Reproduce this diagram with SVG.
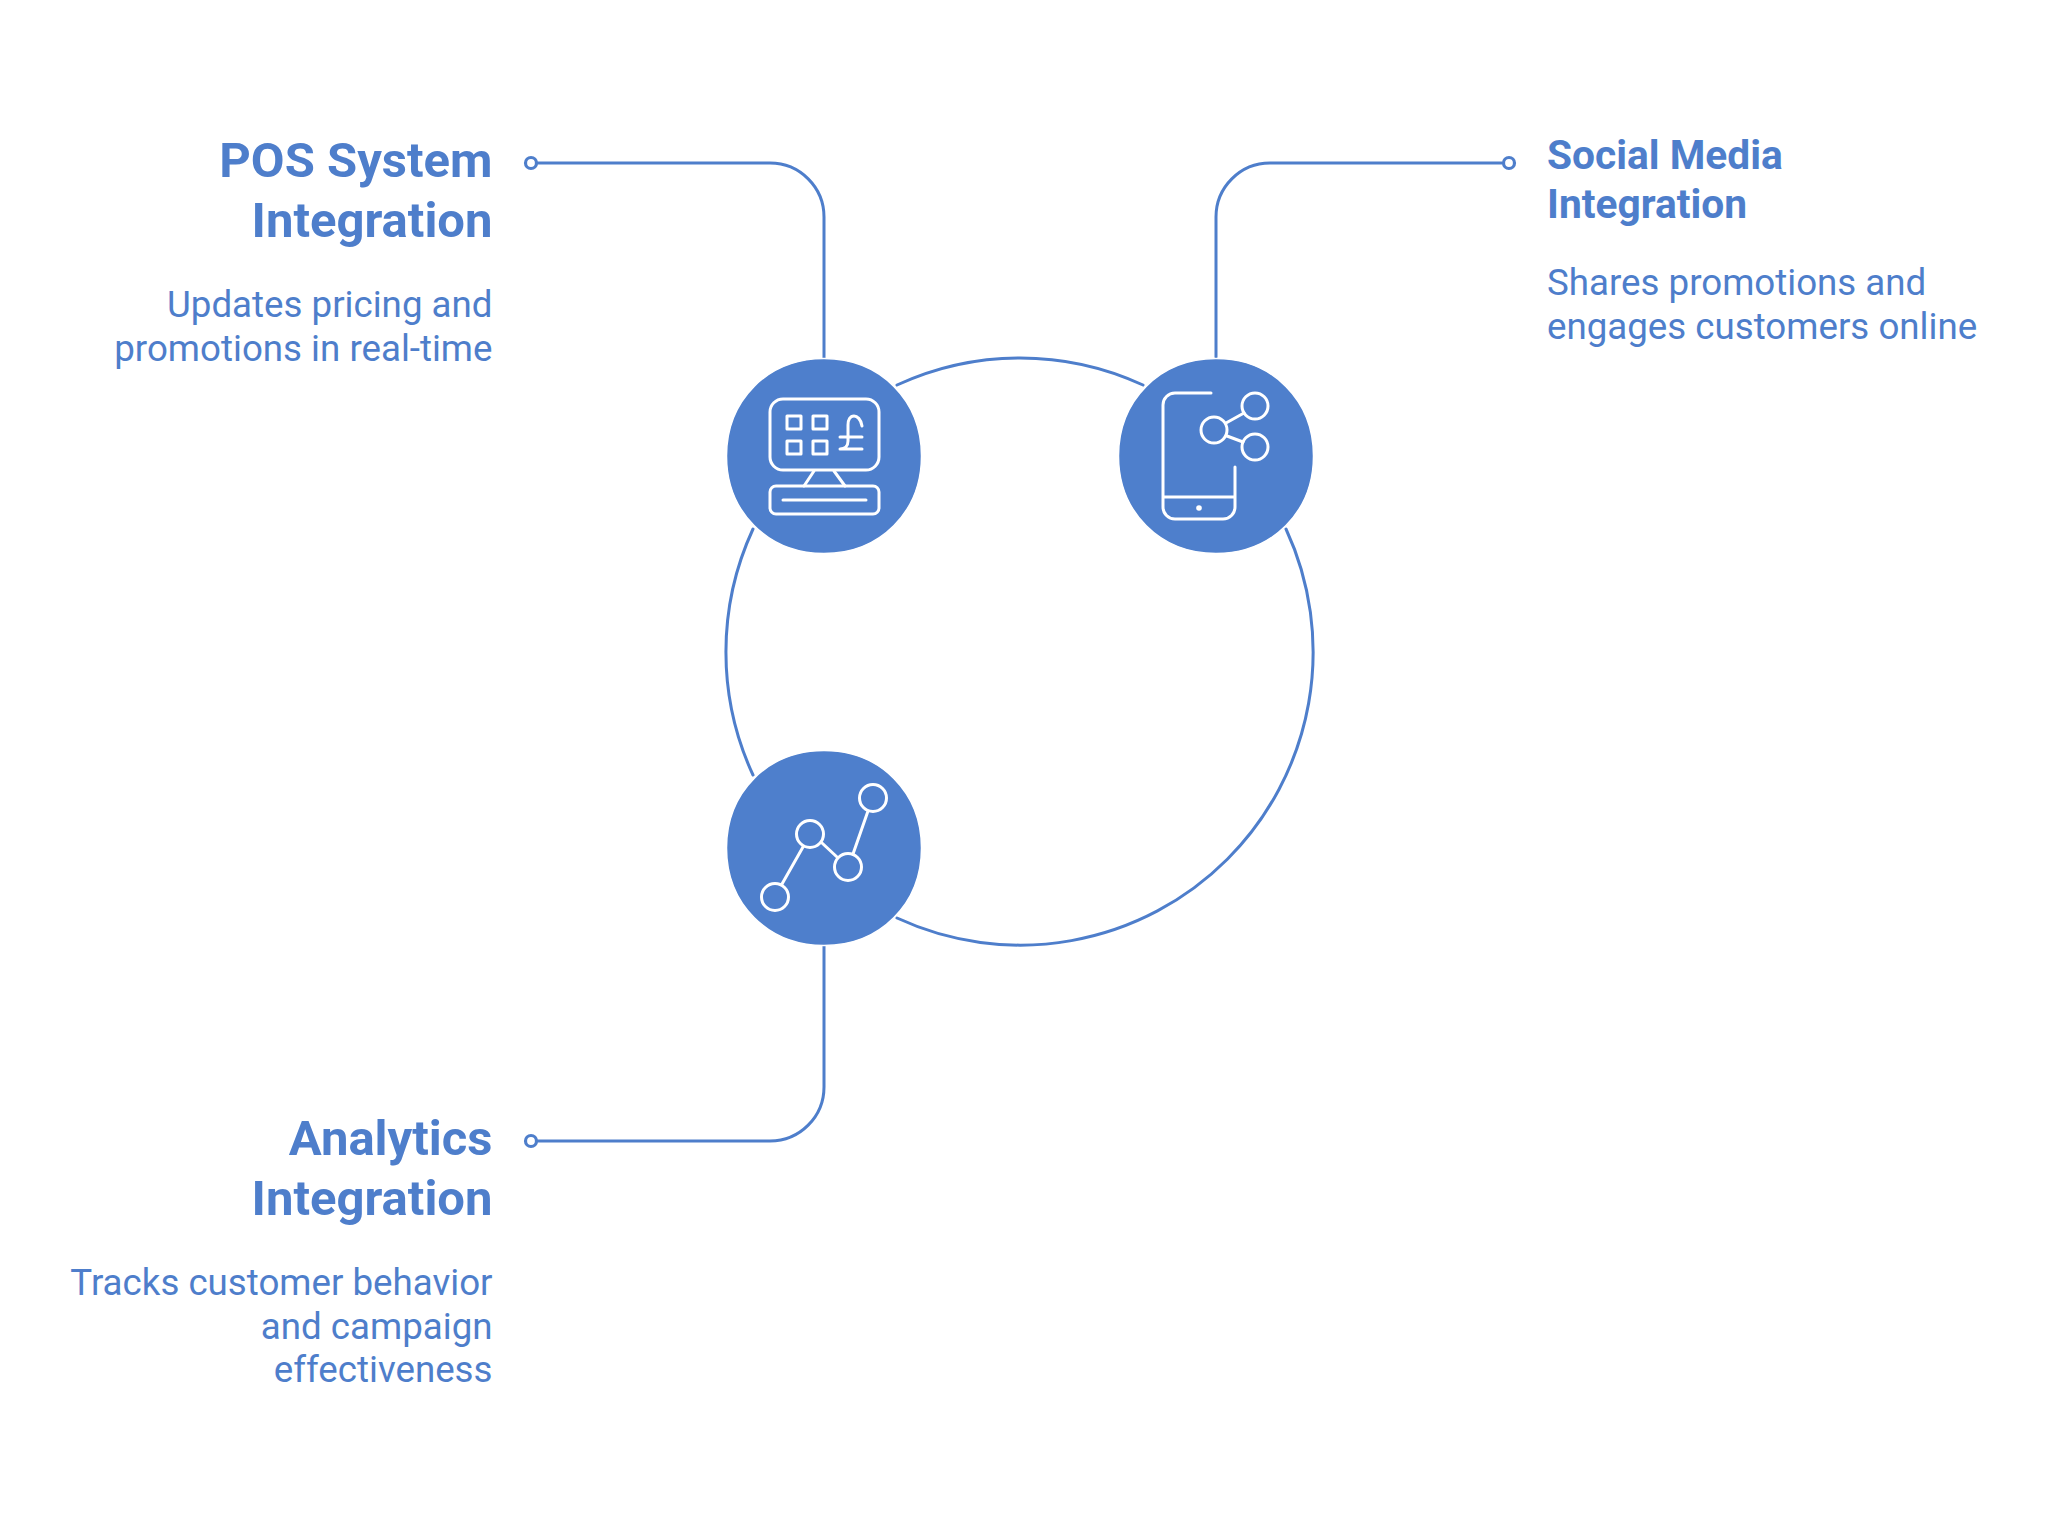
<svg xmlns="http://www.w3.org/2000/svg" width="2048" height="1522" viewBox="0 0 2048 1522">
<style>
.c{fill:none;stroke:#4e7ecb;stroke-width:3;stroke-linecap:round}
.d{fill:#fff;stroke:#4e7ecb;stroke-width:3.2}
.b{fill:#4e7fcc;stroke:#fff;stroke-width:1.5}
.i{fill:none;stroke:#fff;stroke-width:3;stroke-linecap:round;stroke-linejoin:round}
text{font-family:Roboto,"Liberation Sans",sans-serif;fill:#4e7ecb}
.h1{font-size:49px;font-weight:700}
.h2{font-size:40.7px;font-weight:700}
.t{font-size:36.7px}
.e{text-anchor:end}
</style>
<defs>
<path id="blob" d="M0-97.5C57-97.5 97.5-55 97.5 0C97.5 56 56 97.5 0 97.5C-56 97.5-97.5 56-97.5 0C-97.5-55-57-97.5 0-97.5Z"/>
</defs>
<rect width="2048" height="1522" fill="#fff"/>
<g id="connectors">
<path class="c" d="M897 385A293 293 0 0 1 1143 385"/>
<path class="c" d="M1286 529A293 293 0 0 1 897 918"/>
<path class="c" d="M753 775A293 293 0 0 1 753 529"/>
<path class="c" d="M537 163H770A54 54 0 0 1 824 217V360"/>
<path class="c" d="M1502 163H1270A54 54 0 0 0 1216 217V357"/>
<path class="c" d="M537 1141H770A54 54 0 0 0 824 1087V944"/>
<circle class="d" cx="531" cy="163" r="5.5"/>
<circle class="d" cx="1509" cy="163" r="5.5"/>
<circle class="d" cx="531" cy="1141" r="5.5"/>
</g>
<g id="node-pos">
<use href="#blob" class="b" x="824" y="456"/>
<rect class="i" x="770" y="399" width="109" height="71" rx="13"/>
<rect class="i" x="787" y="416" width="14" height="13"/>
<rect class="i" x="813" y="416" width="14" height="13"/>
<rect class="i" x="787" y="441" width="14" height="13"/>
<rect class="i" x="813" y="441" width="14" height="13"/>
<path class="i" d="M862 426C861 419 857 416 854 416C850 416 848 420 848 425V441C848 446 845 449 840 449H862M840 437H862M814 471L804 486M834 471L845 486M783 500H866"/>
<rect class="i" x="770" y="486" width="109" height="28" rx="6"/>
<text class="h1 e" x="492.5" y="177">POS System</text>
<text class="h1 e" x="492.5" y="237">Integration</text>
<text class="t e" x="492.5" y="317">Updates pricing and</text>
<text class="t e" x="492.5" y="360.5">promotions in real-time</text>
</g>
<g id="node-social">
<use href="#blob" class="b" x="1216" y="456"/>
<path class="i" d="M1211 393H1175A12 12 0 0 0 1163 405V507A12 12 0 0 0 1175 519H1223A12 12 0 0 0 1235 507V467M1163 497H1235M1226 423L1244 413M1227 436L1243 442"/>
<circle class="i" cx="1214" cy="430" r="13"/>
<circle class="i" cx="1255" cy="406" r="13"/>
<circle class="i" cx="1255" cy="447" r="13"/>
<circle cx="1199" cy="508" r="2.8" fill="#fff"/>
<text class="h2" x="1547" y="168.5">Social Media</text>
<text class="h2" x="1547" y="217.5">Integration</text>
<text class="t" x="1547" y="295">Shares promotions and</text>
<text class="t" x="1547" y="338.5">engages customers online</text>
</g>
<g id="node-analytics">
<use href="#blob" class="b" x="824" y="848"/>
<path class="i" d="M782 884L803 847M822 843L837 857M853 854L868 811"/>
<circle class="i" cx="775" cy="897" r="13.5"/>
<circle class="i" cx="810" cy="834" r="13.5"/>
<circle class="i" cx="848" cy="867" r="13.5"/>
<circle class="i" cx="873" cy="798" r="13.5"/>
<text class="h1 e" x="492.5" y="1155">Analytics</text>
<text class="h1 e" x="492.5" y="1215">Integration</text>
<text class="t e" x="492.5" y="1295">Tracks customer behavior</text>
<text class="t e" x="492.5" y="1338.5">and campaign</text>
<text class="t e" x="492.5" y="1382">effectiveness</text>
</g>
</svg>
